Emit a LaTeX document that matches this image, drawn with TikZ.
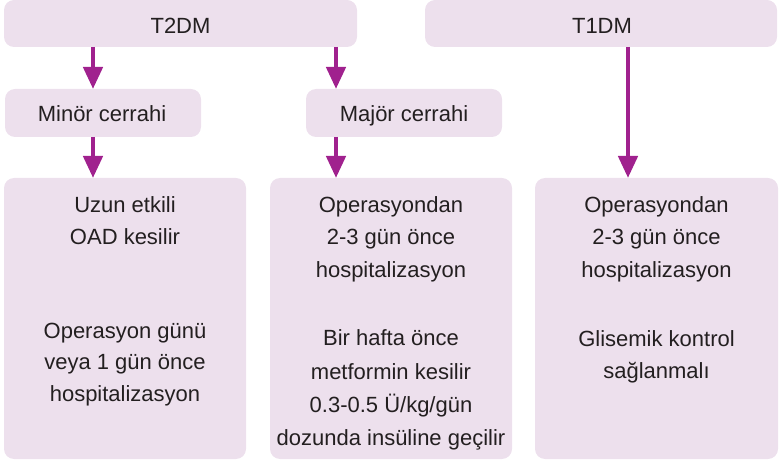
\documentclass[tikz,border=0pt]{standalone}
\usepackage{fontspec}
\setmainfont{Liberation Sans}
\usetikzlibrary{arrows.meta}
\definecolor{boxfill}{RGB}{237,224,237}
\definecolor{arrcol}{RGB}{160,33,142}
\definecolor{txtcol}{RGB}{35,31,32}
\begin{document}
\begin{tikzpicture}[x=1pt,y=-1pt,
  box/.style={fill=boxfill,draw=none,rounded corners=10pt,inner sep=0,outer sep=0},
  txt/.style={font=\fontsize{22}{32}\selectfont,text=txtcol,anchor=base,inner sep=0},
  arr/.style={draw=arrcol,line width=4.5pt,-{Triangle[length=22pt,width=19pt]}}]
\useasboundingbox (0,0) rectangle (782,462);
% boxes
\node[box,minimum width=353pt,minimum height=47pt] (t2) at (180.5,23.5) {};
\node[box,minimum width=352pt,minimum height=47pt] (t1) at (601,23.5) {};
\node[box,minimum width=196pt,minimum height=48pt] (mi) at (103,113) {};
\node[box,minimum width=196pt,minimum height=48pt] (ma) at (404,113) {};
\node[box,minimum width=242pt,minimum height=281pt] (b1) at (125,318.5) {};
\node[box,minimum width=242pt,minimum height=281pt] (b2) at (391,318.5) {};
\node[box,minimum width=243pt,minimum height=281pt] (b3) at (656.5,318.5) {};
% headings
\node[txt] (t2t) at (180.5,33.5) {T2DM};
\node[txt] (t1t) at (602,33.5) {T1DM};
\node[txt] (mit) at (102,121.5) {Minör cerrahi};
\node[txt] (mat) at (404,121.5) {Majör cerrahi};
% box 1
\node[txt] (b1a) at (125,213) {Uzun etkili};
\node[txt] (b1b) at (125,244.5) {OAD kesilir};
\node[txt] (b1c) at (125,338) {Operasyon günü};
\node[txt] (b1d) at (125,369.5) {veya 1 gün önce};
\node[txt] (b1e) at (125,401) {hospitalizasyon};
% box 2
\node[txt] (b2a) at (391,213) {Operasyondan};
\node[txt] (b2b) at (391,245) {2-3 gün önce};
\node[txt] (b2c) at (391,277.5) {hospitalizasyon};
\node[txt] (b2d) at (391,346) {Bir hafta önce};
\node[txt] (b2e) at (391,379) {metformin kesilir};
\node[txt] (b2f) at (391,412) {0.3-0.5 Ü/kg/gün};
\node[txt] (b2g) at (391,445) {dozunda insüline geçilir};
% box 3
\node[txt] (b3a) at (656.5,213) {Operasyondan};
\node[txt] (b3b) at (656.5,245) {2-3 gün önce};
\node[txt] (b3c) at (656.5,277.5) {hospitalizasyon};
\node[txt] (b3d) at (656.5,346.5) {Glisemik kontrol};
\node[txt] (b3e) at (656.5,378) {sağlanmalı};
% arrow columns
\coordinate (c1) at (93,0);
\coordinate (c2) at (336,0);
\coordinate (c3) at (628,0);
\draw[arr] (t2.south -| c1) -- (mi.north -| c1);
\draw[arr] (t2.south -| c2) -- (ma.north -| c2);
\draw[arr] (mi.south -| c1) -- (b1.north -| c1);
\draw[arr] (ma.south -| c2) -- (b2.north -| c2);
\draw[arr] (t1.south -| c3) -- (b3.north -| c3);
\end{tikzpicture}
\end{document}
